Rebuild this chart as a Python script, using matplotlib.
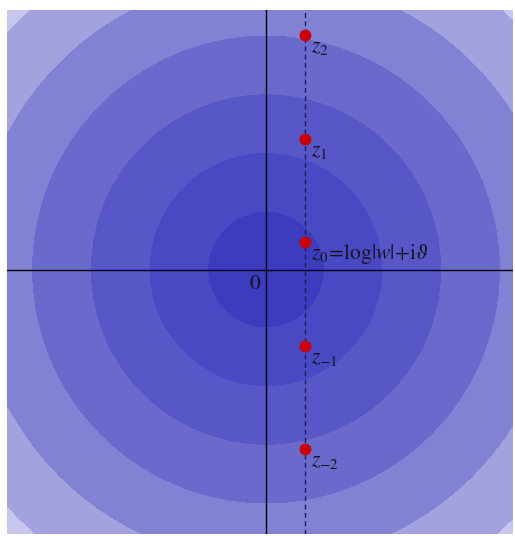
import numpy as np
import matplotlib
matplotlib.use("Agg")
import matplotlib.pyplot as plt

plt.rcParams['mathtext.fontset'] = 'stix'
plt.rcParams['font.family'] = ['STIXGeneral', 'Liberation Serif', 'DejaVu Serif']

# chart values
log_w = 2.39          # real part of the points (dashed line)
theta = 1.65          # imaginary part of z0
branches = [2, 1, 0, -1, -2]
labels = [r'$z_2$', r'$z_1$', r'$z_0\!=\!\log|w|\!+\!\mathrm{i}\vartheta$',
          r'$z_{-1}$', r'$z_{-2}$']
ring_step = 3.565     # spacing of the shaded rings
ring_colors = ['#3c3cbe', '#4949c3', '#5757c7', '#6a6acc',
               '#8282d4', '#a2a2de', '#c6c6ee', '#dcdcf4']

xlim = (-15.73, 15.0)
ylim = (-16.06, 15.76)

fig = plt.figure(figsize=(5.15, 5.36), dpi=100)
ax = fig.add_axes([7 / 515, 2 / 536, 506 / 515, 524 / 536])

x = np.linspace(xlim[0], xlim[1], 900)
y = np.linspace(ylim[0], ylim[1], 900)
X, Y = np.meshgrid(x, y)
R = np.sqrt(X**2 + Y**2)
levels = np.arange(len(ring_colors) + 1) * ring_step
cs = ax.contourf(X, Y, R, levels=levels, colors=ring_colors)
cs.set_edgecolor('face')
cs.set_linewidth(0.6)

ax.axhline(0, color='black', lw=1)
ax.axvline(0, color='black', lw=1)
ax.axvline(log_w, color='#1e1e5a', lw=1, ls=(0, (3.5, 2.5)))

ys = [theta + 2 * np.pi * k for k in branches]
ax.plot([log_w] * len(ys), ys, 'o', color='#cc0000', ms=7.5, zorder=5)
for yy, lab in zip(ys, labels):
    ax.annotate(lab, (log_w, yy), xytext=(6, -17), textcoords='offset pixels',
                fontsize=15.5, color='#151520', va='baseline', ha='left')

ax.annotate('0', (0, 0), xytext=(-17, -19), textcoords='offset pixels',
            fontsize=15.5, color='#151520', va='baseline', ha='left')

ax.set_xlim(xlim)
ax.set_ylim(ylim)
ax.axis('off')

fig.savefig('out.png', dpi=100)
